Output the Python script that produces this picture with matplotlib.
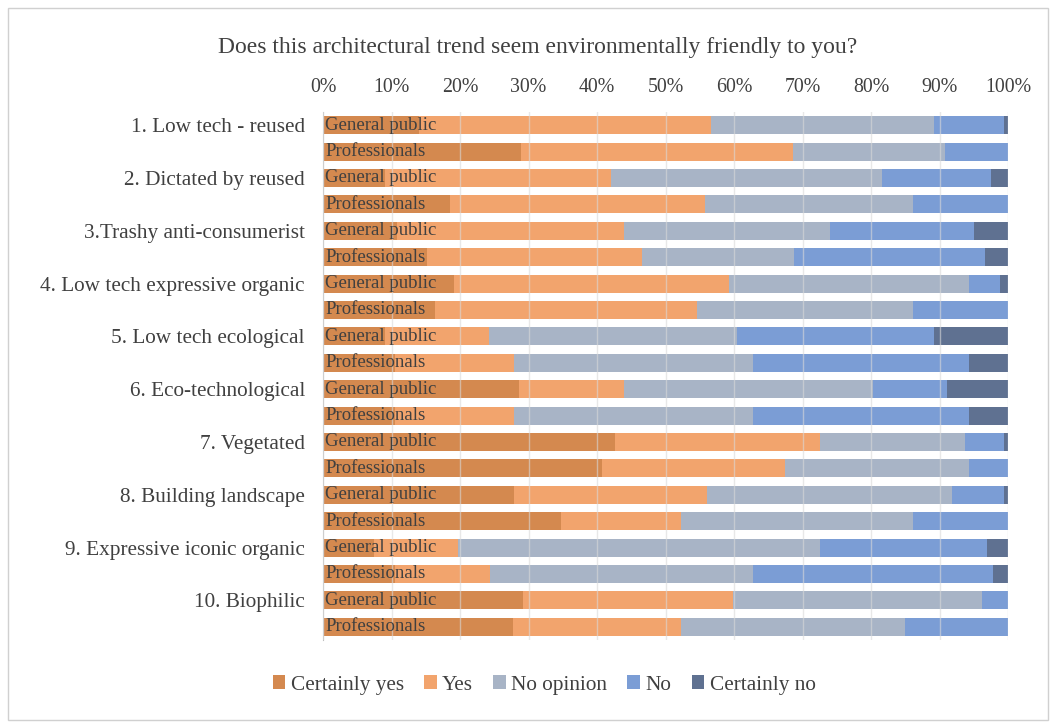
import matplotlib
matplotlib.use("Agg")
import matplotlib.pyplot as plt
from matplotlib.patches import Rectangle
import numpy as np

categories = ["1. Low tech - reused", "2. Dictated by reused", "3.Trashy anti-consumerist",
              "4. Low tech expressive organic", "5. Low tech ecological", "6. Eco-technological",
              "7. Vegetated", "8. Building landscape", "9. Expressive iconic organic", "10. Biophilic"]
groups = ["General public", "Professionals"]
series = ["Certainly yes", "Yes", "No opinion", "No", "Certainly no"]
colors = ["#d4894f", "#f2a46d", "#a8b4c6", "#7b9dd5", "#5f7191"]

# percentages per bar (order: cat1 GP, cat1 Prof, cat2 GP, ...)
certainly_yes = [14.0, 28.9, 9.1, 18.6, 10.8, 15.2, 19.1, 16.4, 9.0, 10.5,
                 28.6, 10.5, 42.6, 40.7, 27.9, 34.8, 7.5, 10.5, 29.2, 27.8]
yes = [42.7, 39.7, 32.9, 37.2, 33.1, 31.3, 40.1, 38.2, 15.2, 17.4,
       15.3, 17.4, 30.0, 26.8, 28.2, 17.5, 12.2, 13.9, 30.7, 24.5]
no_opinion = [32.5, 22.2, 39.6, 30.3, 30.1, 22.2, 35.1, 31.5, 36.2, 34.9,
              36.4, 34.9, 21.1, 26.8, 35.7, 33.8, 52.9, 38.4, 36.3, 32.6]
no = [10.2, 9.2, 15.9, 13.9, 21.0, 27.9, 4.5, 13.9, 28.8, 31.5,
      10.8, 31.5, 5.7, 5.7, 7.6, 13.9, 24.3, 35.0, 3.8, 15.1]
certainly_no = [0.6, 0.0, 2.5, 0.0, 5.0, 3.4, 1.2, 0.0, 10.8, 5.7,
                8.9, 5.7, 0.6, 0.0, 0.6, 0.0, 3.1, 2.2, 0.0, 0.0]

data = [certainly_yes, yes, no_opinion, no, certainly_no]

plt.rcParams['font.family'] = ['Liberation Serif', 'DejaVu Serif']

fig = plt.figure(figsize=(10.53, 7.22), dpi=100)
ax = fig.add_axes([323/1053, 1-640/722, (1008-323)/1053, (640-112)/722])

n = len(certainly_yes)
ypos = np.arange(n)
left = np.zeros(n)
handles = []
for vals, col, name in zip(data, colors, series):
    v = np.array(vals)
    b = ax.barh(ypos, v, left=left, height=0.68, color=col, label=name, zorder=2)
    handles.append(b)
    left += v

ax.set_xlim(0, 100)
ax.set_ylim(n - 0.5, -0.5)
ax.set_xticks(np.arange(0, 101, 10))
ax.set_xticklabels([f"{t}%" for t in range(0, 101, 10)])
ax.xaxis.tick_top()
ax.tick_params(axis='x', length=0, pad=11, labelsize=14.3, labelcolor='#404040')
ax.set_yticks(ypos[::2])
ax.set_yticklabels(categories)
ax.tick_params(axis='y', length=0, pad=13, labelsize=15.3, labelcolor='#404040')
ax.grid(axis='x', color='#d9d9d9', linewidth=1, zorder=3, alpha=0.6)
ax.set_axisbelow(False)
for s in ['top', 'right', 'bottom']:
    ax.spines[s].set_visible(False)
ax.spines['left'].set_color('#bfbfbf')

for i in range(n):
    ax.text(0.3, i, groups[i % 2], va='center', ha='left', fontsize=13.5,
            color='#404040', zorder=4)

fig.text(538/1053, 1-48/722, "Does this architectural trend seem environmentally friendly to you?",
         ha='center', va='center', fontsize=17, color='#404040')

fig.legend(handles=handles, labels=series, loc='center', bbox_to_anchor=(544/1053, 1-685/722),
           ncol=5, frameon=False, fontsize=15.3, handlelength=0.6, handleheight=0.6,
           handletextpad=0.25, columnspacing=0.95, labelcolor='#404040')

fig.patches.append(Rectangle((8/1053, 2/722), 1040/1053, 712/722, transform=fig.transFigure,
                             fill=False, edgecolor='#d0d0d0', linewidth=1))

fig.savefig("out.png", dpi=100, facecolor='white')
